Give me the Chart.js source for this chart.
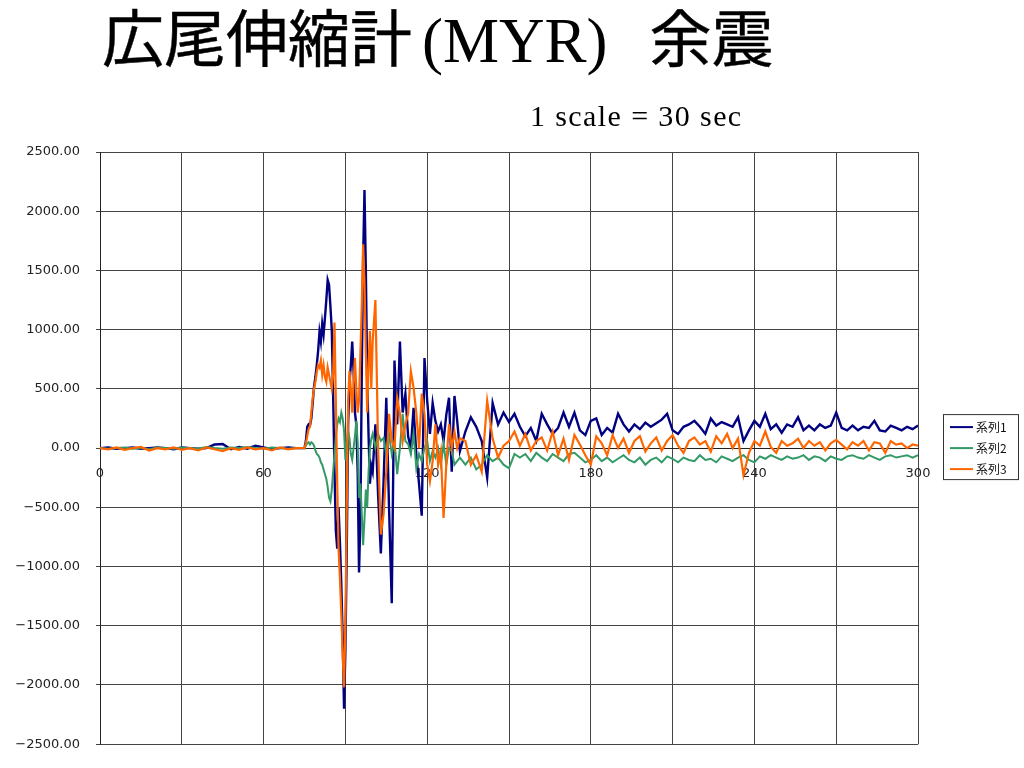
<!DOCTYPE html>
<html lang="ja">
<head>
<meta charset="UTF-8">
<title>広尾伸縮計(MYR) 余震</title>
<style>
  html, body { margin: 0; padding: 0; background: #fff; }
  #page { position: relative; width: 1024px; height: 768px; overflow: hidden; }
  #title { position: absolute; left: 102px; top: -5px; white-space: nowrap; line-height: 80px; color: #000; }
  #title .jp { font-family: "Noto Sans CJK JP"; font-size: 62px; font-weight: 400; -webkit-text-stroke: 0.4px #000; }
  #title .en { font-family: "Liberation Serif"; font-size: 63px; }
  #title .paren { padding-left: 10px; }
  #title .after { padding-left: 42px; }
  #sub { position: absolute; left: 530px; top: 96px; font-family: "Liberation Serif"; font-size: 30px; letter-spacing: 1.4px; line-height: 40px; color: #000; white-space: nowrap; }
  #myChart01 { position: absolute; left: 0; top: 0; }
</style>
</head>
<body>
<div id="page">
  <canvas id="myChart01" width="1024" height="768"></canvas>
  <div id="title"><span class="jp">広尾伸縮計</span><span class="en paren">(MYR)</span><span class="jp after">余震</span></div>
  <div id="sub">1 scale = 30 sec</div>
</div>
<script src="https://cdn.jsdelivr.net/npm/chart.js"></script>
<script>
// 時間 (sec)
var preT = [0, 3, 6, 9, 12, 15, 18, 21, 24, 27, 30, 33, 36, 39, 42, 45, 48, 51, 54, 57, 60, 63, 66, 69, 72, 74];
var quakeT = [75, 75.5, 76, 76.5, 77, 77.5, 78, 78.5, 79, 79.5, 80, 80.5, 81, 81.5, 82, 82.5, 83, 83.5, 84, 84.5,
  85, 85.5, 86, 86.5, 87, 87.5, 88, 88.5, 89, 89.5, 90, 90.5, 91, 91.5, 92, 92.5, 93, 93.5, 94, 94.5,
  95, 95.5, 96, 96.5, 97, 97.5, 98, 98.5, 99, 99.5, 100,
  101, 102, 103, 104, 105, 106, 107, 108, 109, 110, 111, 112, 113, 114, 115, 116, 117, 118, 119, 120,
  121, 122, 123, 124, 125, 126, 127, 128, 129, 130, 131, 132];
var tailT = [134, 136, 138, 140, 142, 144, 146, 148, 150, 152, 154, 156, 158, 160, 162, 164, 166, 168, 170, 172,
  174, 176, 178, 180, 182, 184, 186, 188, 190, 192, 194, 196, 198, 200, 202, 204, 206, 208, 210, 212,
  214, 216, 218, 220, 222, 224, 226, 228, 230, 232, 234, 236, 238, 240, 242, 244, 246, 248, 250, 252,
  254, 256, 258, 260, 262, 264, 266, 268, 270, 272, 274, 276, 278, 280, 282, 284, 286, 288, 290, 292,
  294, 296, 298, 300];

// 系列1 (紺)
var s1Pre = [0, 5, -5, 0, 5, -5, 0, 5, 0, -10, 5, 0, -5, 0, 30, 35, -10, 10, -5, 20, 5, -10, 0, 5, 0, 0];
var s1Quake = [0, 60, 180, 200, 190, 250, 380, 520, 600, 700, 820, 980, 900, 1050, 960, 1100, 1250, 1420, 1380, 1200,
  1000, 450, -200, -700, -850, -500, -800, -1150, -1600, -2200, -1700, -850, 200, 550, 700, 900, 650, 300, 200, -200,
  -1050, -600, 600, 1600, 2180, 1500, 600, 100, -300, -150, -200,
  200, -400, -890, -280, 425, -500, -1310, 740, 200, 900, 300, 460, 100, 0, 340, -50, -300, -570, 760, 400,
  120, 380, 230, 140, 200, 60, 280, 425, -200, 440, 230, -25];
var s1Tail = [140, 260, 180, 60, -250, 380, 200, 300, 220,
  290, 180, 100, 170, 60, 290, 200, 120, 170, 300,
  180, 300, 150, 110, 230, 250, 110, 170, 130, 290,
  200, 140, 200, 160, 215, 180, 210, 240, 290, 150,
  120, 180, 200, 230, 180, 120, 250, 190, 220, 200,
  180, 260, 60, 150, 230, 180, 290, 160, 200, 130,
  200, 180, 260, 150, 190, 150, 200, 170, 190, 300,
  170, 150, 190, 150, 180, 170, 230, 150, 140, 190,
  170, 150, 180, 160, 190];

// 系列2 (緑)
var s2Pre = [0, -5, 0, 5, -5, 0, -10, 5, 0, -5, 5, 0, -5, 10, 0, -5, 5, 0, 10, 0, -5, 5, 0, -5, 0, 0];
var s2Quake = [0, 20, 40, 50, 30, 50, 40, 20, -20, -50, -60, -80, -120, -140, -180, -220, -260, -330, -420, -450,
  -350, -200, -50, 100, 200, 250, 220, 300, 250, 150, -100, 50, 150, 80, -50, -100, 0, 100, 230, 50,
  -420, -300, -550, -820, -600, -350, -500, -200, 0, 80, 120,
  0, 120, 60, 85, -50, 120, -50, 60, -220, 0, 290, 60, 35, -50, 120, -170, -50, -110, 0, 60,
  -110, -25, -80, 0, -140, 35, -140, 0, -25, -140, -110, -80];
var s2Tail = [-140, -80, -180, -140, -60, -110, -80, -140, -170, -50, -80, -50, -110, -40, -80, -110, -50, -80, -110, -50,
  -40, -80, -120, -100, -60, -110, -80, -120, -90, -60, -100, -120, -80, -140, -100, -80, -120, -70, -90, -120,
  -80, -100, -110, -60, -100, -90, -120, -70, -90, -110, -80, -60, -100, -120, -70, -90, -60, -80, -100, -70,
  -90, -80, -60, -100, -70, -80, -110, -70, -90, -100, -70, -60, -80, -90, -60, -80, -100, -70, -60, -80,
  -70, -60, -80, -60];

// 系列3 (橙)
var s3Pre = [0, -10, 5, -15, 0, 10, -20, 0, -10, 5, -15, 0, -20, 5, -10, -25, 0, -15, 5, -10, 0, -20, 5, -10, 0, 0];
var s3Quake = [0, 40, 100, 160, 180, 300, 420, 500, 560, 640, 700, 680, 740, 620, 700, 600, 560, 680, 620, 560,
  500, 620, 1060, 400, -300, -850, -1100, -1400, -1750, -2020, -1500, -500, 400, 650, 500, 300, 550, 760, 500, 300,
  400, 800, 1200, 1720, 1400, 800, 300, 700, 990, 500, 900,
  1250, 0, -730, -560, -200, 290, 60, 0, 425, 290, 60, 200, 290, 650, 510, 300, 0, 460, 290, -140,
  -280, -110, 200, -140, -25, -590, -140, 200, 0, 140, 0, 85];
var s3Tail = [60, -140, -60, -200, 400, 80, -80, 20, 60,
  140, 20, 120, -20, 60, 90, -20, 140, -60, 80,
  -100, 110, 30, -60, -140, 100, 40, -60, 110, 0,
  80, -40, 60, 100, -30, 40, 90, -20, 60, 110,
  20, -40, 60, 90, 30, 60, -30, 100, 40, 120,
  0, 80, -230, -40, 60, 20, 140, 10, -40, 60,
  20, 40, 80, 0, 60, 20, 50, -20, 40, 70,
  30, -10, 50, 20, 60, -20, 50, 40, -40, 60,
  30, 40, 0, 30, 20];

var seriesNames = ['系列1', '系列2', '系列3'];
var seriesColors = ['#000080', '#339966', '#ff6600'];

var timeAll = preT.concat(quakeT, tailT);
function toPoints(a, b, c) {
  var v = a.concat(b, c);
  return timeAll.map(function (t, i) { return { x: t, y: v[i] }; });
}

// 凡例 (枠付き)
var boxLegend = {
  id: 'boxLegend',
  afterDraw: function (chart) {
    var ctx = chart.ctx, area = chart.chartArea;
    var y0 = chart.scales.y.getPixelForValue(0);
    var left = area.right + 25, top = y0 - 34, w = 75, h = 65;
    ctx.save();
    ctx.fillStyle = '#fff';
    ctx.fillRect(left, top, w, h);
    ctx.strokeStyle = '#333';
    ctx.lineWidth = 1;
    ctx.strokeRect(left + 0.5, top + 0.5, w, h);
    ctx.font = '12px "Noto Sans CJK JP"';
    ctx.textBaseline = 'middle';
    chart.data.datasets.forEach(function (ds, i) {
      var yy = top + 13 + i * 21;
      ctx.strokeStyle = ds.borderColor;
      ctx.lineWidth = 2;
      ctx.beginPath();
      ctx.moveTo(left + 7, yy);
      ctx.lineTo(left + 30, yy);
      ctx.stroke();
      ctx.fillStyle = '#111';
      ctx.fillText(ds.label, left + 33, yy);
    });
    ctx.restore();
  }
};

var ctx01 = document.getElementById('myChart01');
var chart01 = new Chart(ctx01, {
  type: 'line',
  data: {
    datasets: [
      { label: seriesNames[0], data: toPoints(s1Pre, s1Quake, s1Tail), borderColor: seriesColors[0], borderWidth: 2.4, order: 2 },
      { label: seriesNames[1], data: toPoints(s2Pre, s2Quake, s2Tail), borderColor: seriesColors[1], borderWidth: 2, order: 1 },
      { label: seriesNames[2], data: toPoints(s3Pre, s3Quake, s3Tail), borderColor: seriesColors[2], borderWidth: 2.2, order: 0 }
    ]
  },
  options: {
    responsive: false,
    animation: false,
    events: [],
    elements: { point: { radius: 0 }, line: { tension: 0 } },
    layout: { padding: { top: 152, bottom: 21, left: 10, right: 106 } },
    plugins: { legend: { display: false }, tooltip: { enabled: false } },
    scales: {
      x: {
        type: 'linear',
        position: { y: 0 },
        min: 0,
        max: 300,
        grid: { color: '#444', lineWidth: 1, tickLength: 0 },
        border: { color: '#222', width: 1 },
        ticks: {
          stepSize: 30,
          autoSkip: false,
          maxRotation: 0,
          padding: 18,
          color: '#222',
          font: { family: 'DejaVu Sans', size: 13 },
          callback: function (v) { return v % 60 === 0 ? String(v) : ''; }
        }
      },
      y: {
        min: -2500,
        max: 2500,
        afterFit: function (s) { s.width = 90; },
        grid: { color: '#444', lineWidth: 1, tickLength: 4 },
        border: { color: '#222', width: 1 },
        ticks: {
          stepSize: 500,
          padding: 16,
          color: '#222',
          font: { family: 'DejaVu Sans', size: 13 },
          callback: function (v) { return v.toFixed(2).replace('-', '\u2212'); }
        }
      }
    }
  },
  plugins: [boxLegend]
});
</script>
</body>
</html>
